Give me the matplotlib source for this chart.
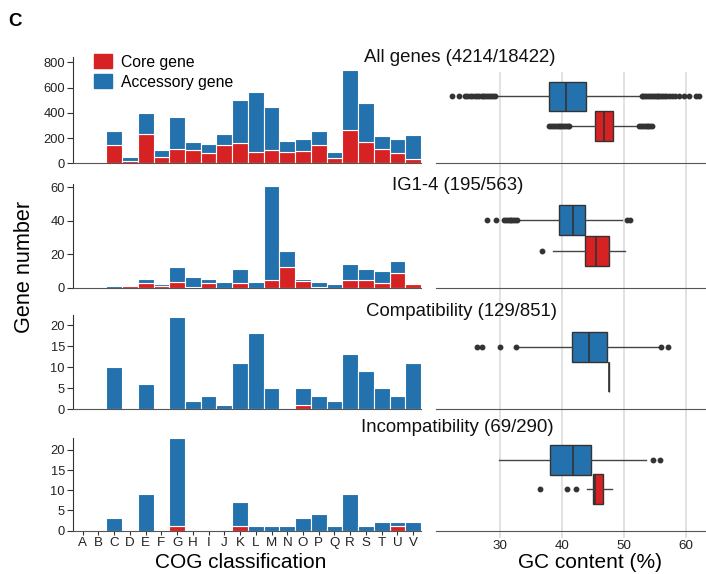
import numpy as np
import matplotlib.pyplot as plt
from matplotlib.patches import Patch

plt.rcParams['font.family'] = ['Liberation Sans', 'DejaVu Sans']

cog = list('ABCDEFGHIJKLMNOPQRSTUV')
titles = ['All genes (4214/18422)', 'IG1-4 (195/563)',
          'Compatibility (129/851)', 'Incompatibility (69/290)']

# gene number per COG class: total (core + accessory) and core part
all_total = [3, 3, 256, 50, 398, 105, 367, 169, 153, 232, 501, 565, 446, 177, 193, 256, 90, 739, 478, 216, 193, 224]
all_core = [3, 3, 145, 18, 235, 50, 113, 108, 82, 145, 161, 92, 108, 92, 98, 145, 45, 266, 171, 113, 82, 34]
ig_total = [0, 0, 1, 1, 5, 2, 12, 6, 5, 3, 11, 3, 61, 22, 5, 3, 2, 14, 11, 10, 16, 2]
ig_core = [0, 0, 0, 1, 2.4, 1, 3.4, 0.3, 2.4, 0, 2.4, 0, 4.4, 12, 3.6, 0.3, 0, 4.4, 4.4, 2.4, 8.6, 2]
comp_total = [0, 0, 10, 0, 6, 0, 22, 2, 3, 1, 11, 18, 5, 0, 5, 3, 2, 13, 9, 5, 3, 11]
comp_core = [0, 0, 0, 0, 0, 0, 0, 0, 0, 0, 0, 0, 0, 0, 1, 0, 0, 0, 0, 0, 0, 0]
incomp_total = [0, 0, 3, 0, 9, 0, 23, 0, 0, 0, 7, 1, 1, 1, 3, 4, 1, 9, 1, 2, 2, 2]
incomp_core = [0, 0, 0, 0, 0, 0, 1, 0, 0, 0, 1, 0, 0, 0, 0, 0, 0, 0, 0, 0, 1, 0]

# GC content box stats: [whislo, q1, med, q3, whishi]
acc_stats = [[29.2, 37.9, 40.6, 43.9, 52.7],
             [32.9, 39.4, 41.8, 43.7, 49.6],
             [32.5, 41.5, 44.3, 47.2, 56.0],
             [29.8, 38.1, 41.7, 44.6, 53.5]]
core_stats = [[41.2, 45.3, 46.7, 48.2, 52.3],
              [38.5, 43.7, 45.5, 47.5, 50.1],
              [47.6, 47.6, 47.6, 47.6, 47.6],
              [44.0, 44.9, 45.3, 46.5, 48.1]]
acc_fliers = [
    [22.2, 23.4, 24.3, 24.7, 25.1, 25.5, 25.9, 26.3, 26.6, 27.0, 27.3, 27.6, 27.9, 28.2, 28.5, 28.8, 29.1,
     52.8, 53.1, 53.4, 53.7, 54.0, 54.3, 54.6, 54.9, 55.2, 55.5, 55.8, 56.1, 56.4, 56.8, 57.2, 57.7, 58.2,
     58.8, 59.6, 60.4, 61.5, 62.1],
    [27.8, 29.4, 30.6, 30.9, 31.2, 31.5, 31.8, 32.1, 32.4, 32.7, 50.4, 50.9],
    [26.2, 27.0, 30.0, 32.5, 56.0, 57.0],
    [54.7, 55.8]]
core_fliers = [
    [37.9, 38.2, 38.5, 38.8, 39.1, 39.4, 39.7, 40.0, 40.3, 40.6, 40.9, 41.1,
     52.4, 52.7, 53.0, 53.3, 53.6, 53.9, 54.2, 54.5],
    [36.7],
    [],
    [36.4, 40.8, 42.2]]

totals = [all_total, ig_total, comp_total, incomp_total]
cores = [all_core, ig_core, comp_core, incomp_core]
ytops = [841, 62, 22.4, 22.98]
yticks = [[0, 200, 400, 600, 800], [0, 20, 40, 60], [0, 5, 10, 15, 20], [0, 5, 10, 15, 20]]

red = '#d62222'
blue = '#2372ad'
dark = '#333333'

W, H = 706, 574
fig = plt.figure(figsize=(W / 100, H / 100), dpi=100)


def px_axes(left, top, right, bottom):
    return fig.add_axes([left / W, 1 - bottom / H, (right - left) / W, (bottom - top) / H])


bottoms = [163.5, 287.5, 409, 530.5]
left_tops = [57, 184, 315, 438]
right_tops = [72, 168.5, 292.5, 414]
# box centres above the row bottom (pixels)
acc_pos = [67, 67.5, 62, 71]
core_pos = [37, 37, 32, 41.5]
title_x = [459.5, 457.5, 461.5, 457.5]
title_y = [58, 185, 312, 427]

x = np.arange(len(cog))
for i in range(4):
    # bar panel
    ax = px_axes(73.3, left_tops[i], 421, bottoms[i])
    tot = np.array(totals[i], dtype=float)
    core = np.array(cores[i], dtype=float)
    ax.bar(x, core, width=1.0, color=red, edgecolor='white', linewidth=0.8, label='Core gene')
    ax.bar(x, tot - core, bottom=core, width=1.0, color=blue, edgecolor='white', linewidth=0.8,
           label='Accessory gene')
    ax.set_xlim(-0.6, 21.5)
    ax.set_ylim(0, ytops[i])
    ax.set_yticks(yticks[i])
    ax.tick_params(axis='y', labelsize=9.3, length=4, color=dark, labelcolor='#222222', pad=2)
    for s in ['top', 'right']:
        ax.spines[s].set_visible(False)
    ax.spines['left'].set_color(dark)
    ax.spines['bottom'].set_color('#555555')
    if i == 3:
        ax.set_xticks(x)
        ax.set_xticklabels(cog)
        ax.tick_params(axis='x', labelsize=9.6, length=3, color=dark, labelcolor='#222222', pad=2)
    else:
        ax.set_xticks([])
    if i == 0:
        handles = [Patch(color=red), Patch(color=blue)]
        fig.legend(handles, ['Core gene', 'Accessory gene'], loc='upper left',
                   bbox_to_anchor=(88 / W, 1 - 48 / H), frameon=False, fontsize=11.3,
                   handlelength=1.15, handleheight=1.0, handletextpad=0.55, labelspacing=0.3,
                   borderaxespad=0)

    # GC content box panel
    bx = px_axes(436, right_tops[i], 705.5, bottoms[i])
    h = bottoms[i] - right_tops[i]
    st = []
    for vals, fl in [(acc_stats[i], acc_fliers[i]), (core_stats[i], core_fliers[i])]:
        st.append({'whislo': vals[0], 'q1': vals[1], 'med': vals[2], 'q3': vals[3],
                   'whishi': vals[4], 'fliers': fl})
    parts = bx.bxp(st, positions=[acc_pos[i], core_pos[i]], widths=30, vert=False,
                   patch_artist=True, showcaps=False,
                   boxprops=dict(edgecolor=dark, linewidth=1.0),
                   whiskerprops=dict(color='#444444', linewidth=1.0),
                   medianprops=dict(color=dark, linewidth=1.2),
                   flierprops=dict(marker='o', markersize=3.2, markerfacecolor=dark,
                                   markeredgecolor=dark, linestyle='none'))
    parts['boxes'][0].set_facecolor(blue)
    parts['boxes'][1].set_facecolor(red)
    bx.set_ylim(0, h)
    bx.set_xlim(19.65, 63.1)
    bx.set_xticks([30, 40, 50, 60])
    bx.set_yticks([])
    bx.grid(axis='x', color='#dddddd', linewidth=1.2)
    bx.set_axisbelow(True)
    for s in ['top', 'right', 'left']:
        bx.spines[s].set_visible(False)
    bx.spines['bottom'].set_color('#555555')
    bx.tick_params(axis='x', length=5, width=1.2, color='#dddddd', labelsize=9.6,
                   labelcolor='#222222', pad=2)
    if i < 3:
        bx.set_xticklabels([])

    fig.text(title_x[i] / W, 1 - title_y[i] / H, titles[i], ha='center', va='center',
             fontsize=13.4, color='#111111')

fig.text(8 / W, 1 - 21 / H, 'C', fontsize=13.5, fontweight='bold', va='center', ha='left')
fig.text(24 / W, 1 - 267 / H, 'Gene number', rotation=90, fontsize=15.6, ha='center', va='center')
fig.text(241 / W, 1 - 563 / H, 'COG classification', fontsize=15, ha='center', va='center')
fig.text(590 / W, 1 - 563 / H, 'GC content (%)', fontsize=15, ha='center', va='center')

fig.savefig('out.png', dpi=100)
